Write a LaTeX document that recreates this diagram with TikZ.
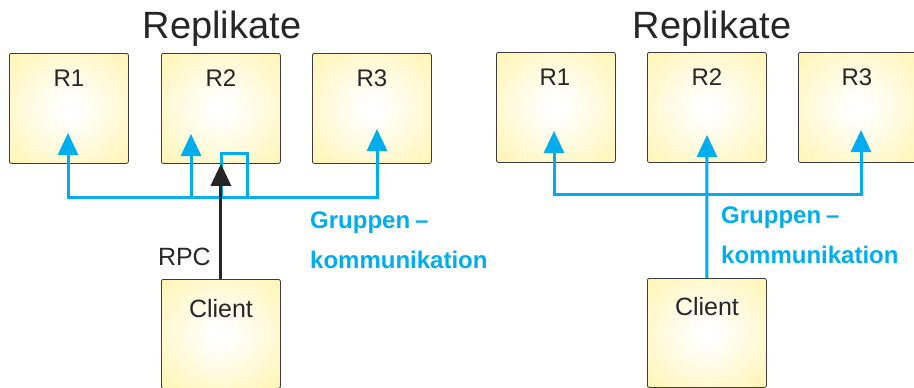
\documentclass[tikz,border=0pt]{standalone}
\usepackage{fontspec}
\setmainfont{Liberation Sans}
\usetikzlibrary{arrows.meta}
\definecolor{gcblue}{RGB}{0,174,239}
\definecolor{boxyel}{RGB}{255,242,160}
\definecolor{boxedge}{RGB}{60,60,60}
\pgfdeclareradialshading{boxshade}{\pgfpoint{0bp}{0bp}}{color(0bp)=(white); color(4bp)=(white); color(44bp)=(boxyel); color(80bp)=(boxyel)}
\begin{document}
\begin{tikzpicture}[x=1pt,y=-1pt,
  replbox/.style={draw=boxedge, line width=0.8pt, rounded corners=2pt, shading=boxshade,
    minimum width=119pt, minimum height=110pt, inner sep=0pt, anchor=north west},
  clientbox/.style={replbox, minimum height=109pt},
  boxlabel/.style={anchor=base, font=\fontsize{24}{28}\selectfont, text=black!85, inner sep=0pt},
  titlelabel/.style={anchor=base, font=\fontsize{38}{44}\selectfont, text=black!85, inner sep=0pt},
  gclabel/.style={anchor=base west, font=\fontsize{24}{28}\selectfont\bfseries, text=gcblue, inner sep=0pt},
  gcline/.style={draw=gcblue, line width=3pt},
  gctip/.style={gcline, -{Triangle[width=20pt,length=22pt]}},
  gcboth/.style={gcline, {Triangle[width=20pt,length=22pt]}-{Triangle[width=20pt,length=22pt]}},
  rpcarrow/.style={draw=black!85, line width=3pt, -{Triangle[width=20pt,length=22pt]}}
]
\path[use as bounding box] (0,0) rectangle (914,388);
\clip (0,0) rectangle (914,388);

% ---------------- left panel ----------------
\node[titlelabel] (ltitle) at (222,38) {Replikate};
\node[replbox] (lr1) at (9,53) {};
\node[replbox] (lr2) at (161,53) {};
\node[replbox] (lr3) at (312,53) {};
\node[boxlabel] (lr1t) at (69,86) {R1};
\node[boxlabel] (lr2t) at (221,86) {R2};
\node[boxlabel] (lr3t) at (372,86) {R3};
\node[clientbox] (lc) at (161,279) {};
\node[boxlabel, font=\fontsize{25}{30}\selectfont] (lct) at (221,317) {Client};
\node[boxlabel, anchor=base east, font=\fontsize{25}{30}\selectfont] (lrpc) at (211,265) {RPC};
\node[gclabel] (lg1) at (310,228) {Gruppen\kern5pt–};
\node[gclabel] (lg2) at (310,268) {kommunikation};

\coordinate (La1) at (68,133);
\coordinate (La2) at (191,134);
\coordinate (La3) at (377,129);
\coordinate (Lh1) at (68,197);
\coordinate (Lh2) at (191,197);
\coordinate (Lh3) at (377,197);
\coordinate (Lq1) at (221,197);
\coordinate (Lq2) at (221,153);
\coordinate (Lq3) at (247,153);
\coordinate (Lq4) at (247,197);
\draw[gcboth] (La1) -- (Lh1) -- (Lh3) -- (La3);
\draw[gctip] (Lh2) -- (La2);
\draw[gcline] (Lq1) -- (Lq2) -- (Lq3) -- (Lq4);
\draw[rpcarrow] (lc.north) -- (lc.north |- lr2.south);

% ---------------- right panel ----------------
\node[titlelabel] (rtitle) at (712,38) {Replikate};
\node[replbox] (rr1) at (496,52) {};
\node[replbox] (rr2) at (647,52) {};
\node[replbox] (rr3) at (798,52) {};
\node[boxlabel] (rr1t) at (555,85) {R1};
\node[boxlabel] (rr2t) at (707,85) {R2};
\node[boxlabel] (rr3t) at (857,85) {R3};
\node[clientbox] (rc) at (647,278) {};
\node[boxlabel, font=\fontsize{25}{30}\selectfont] (rct) at (707,315) {Client};
\node[gclabel] (rg1) at (721,223) {Gruppen\kern5pt–};
\node[gclabel] (rg2) at (721,263) {kommunikation};

\coordinate (Ra1) at (554,131);
\coordinate (Ra2) at (707,135);
\coordinate (Ra3) at (861,130);
\coordinate (Rh1) at (554,194);
\coordinate (Rh3) at (861,194);
\draw[gcboth] (Ra1) -- (Rh1) -- (Rh3) -- (Ra3);
\draw[gctip] (rc.north) -- (Ra2);
\end{tikzpicture}
\end{document}
